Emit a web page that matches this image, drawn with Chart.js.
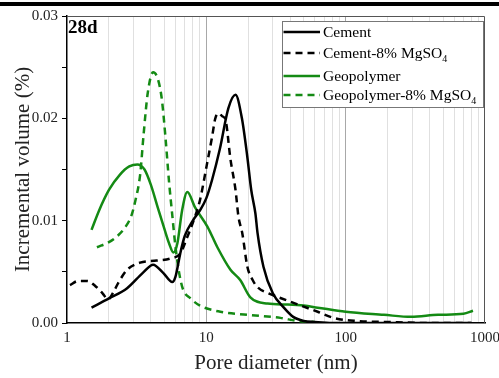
<!DOCTYPE html>
<html>
<head>
<meta charset="utf-8">
<script src="https://cdn.jsdelivr.net/npm/chart.js@4"></script>
<style>
  html, body { margin: 0; padding: 0; background: #fff; }
  #wrap { width: 499px; height: 378px; position: relative; }
</style>
</head>
<body>
<div id="wrap"><canvas id="chart-pori" width="499" height="378"></canvas></div>
<script>
// ===== dati (28d) =====
const cementX = [1.5, 2, 2.7, 3.5, 4.15, 4.9, 5.7, 6.0, 6.5, 7, 8, 9, 10, 11, 12.5, 14.4, 16.2, 18, 19.7, 21, 22.5, 23.3, 25.7, 30, 36, 42, 50, 60, 80, 120, 200, 400, 800];
const cementY = [0.0015, 0.0024, 0.0034, 0.0049, 0.0057, 0.0049, 0.0040, 0.0045, 0.0068, 0.0085, 0.0100, 0.0110, 0.0122, 0.0140, 0.0170, 0.0210, 0.0223, 0.0200, 0.0162, 0.0130, 0.0107, 0.0088, 0.0055, 0.0029, 0.0015, 0.0006, 0.0002, 0.0001, 0, 0, 0, 0, 0];

const cementMgX = [1.05, 1.2, 1.4, 1.6, 1.8, 1.97, 2.15, 2.35, 2.7, 3.35, 4.4, 5.5, 6.5, 7.3, 8.1, 9, 10, 11, 11.6, 12.3, 13, 13.7, 14.9, 16.2, 17, 18.1, 19.7, 21.5, 23.3, 28, 38, 50, 63, 82, 120, 200, 400, 800];
const cementMgY = [0.0037, 0.0041, 0.0041, 0.0036, 0.0029, 0.0023, 0.0030, 0.0040, 0.0052, 0.0059, 0.0061, 0.0063, 0.0068, 0.0084, 0.0100, 0.0120, 0.0152, 0.0182, 0.0200, 0.0205, 0.0202, 0.0199, 0.0160, 0.0130, 0.0104, 0.0088, 0.0055, 0.0042, 0.0035, 0.0029, 0.0022, 0.0016, 0.0011, 0.0005, 0.0002, 0.0001, 0, 0];

const geoX = [1.5, 1.7, 2, 2.4, 2.8, 3.2, 3.6, 4, 4.5, 5, 5.4, 5.8, 6.2, 6.7, 7.3, 8.3, 10.2, 12, 14.9, 17.5, 20.7, 27.5, 38, 50, 63, 100, 188, 295, 460, 700, 820];
const geoY = [0.0091, 0.0110, 0.0130, 0.0145, 0.0153, 0.0155, 0.0150, 0.0135, 0.0112, 0.0092, 0.0078, 0.0069, 0.0078, 0.0110, 0.0128, 0.0113, 0.0094, 0.0074, 0.0052, 0.0042, 0.0025, 0.0019, 0.0018, 0.0017, 0.0015, 0.0011, 0.0008, 0.0006, 0.0008, 0.0009, 0.0012];

const geoMgX = [1.64, 2, 2.3, 2.6, 2.9, 3.1, 3.35, 3.55, 3.8, 4.15, 4.5, 4.8, 5.1, 5.4, 5.7, 6.0, 6.4, 6.8, 7.7, 9, 12.6, 19.7, 34, 45, 60];
const geoMgY = [0.0074, 0.0079, 0.0085, 0.0093, 0.0105, 0.0120, 0.0145, 0.0185, 0.0225, 0.0245, 0.0238, 0.0218, 0.0180, 0.0138, 0.0105, 0.0075, 0.0048, 0.0033, 0.0024, 0.0017, 0.0011, 0.0008, 0.0005, 0.0002, 0.0001];

const xMajor = [1, 10, 100, 1000];
const yLabels = [0, 0.01, 0.02, 0.03];

const VERDE = '#148a14';
const FONT = "'Liberation Serif', 'Times New Roman', serif";

const pts = (xs, ys) => xs.map((x, i) => ({ x: x, y: ys[i] }));

// tick del log: 1..9, 10..90, 100..1000
const xTicks = [];
for (let d = 1; d <= 100; d *= 10) {
  for (let m = 1; m <= 9; m++) xTicks.push(m * d);
}
xTicks.push(1000);

const legendItems = [
  { text: 'Cement', sub: '', color: '#000', dash: [] },
  { text: 'Cement-8% MgSO', sub: '4', color: '#000', dash: [7, 5] },
  { text: 'Geopolymer', sub: '', color: VERDE, dash: [] },
  { text: 'Geopolymer-8% MgSO', sub: '4', color: VERDE, dash: [7, 5] }
];
const legendRowsY = [32, 53, 76, 95];

const extras = {
  id: 'extras',
  beforeDraw(chart) {
    const c = chart.ctx;
    c.save();
    c.fillStyle = '#fff';
    c.fillRect(0, 0, chart.width, chart.height);
    c.fillStyle = '#000';
    c.fillRect(0, 2, chart.width, 4);
    c.restore();
  },
  afterDatasetsDraw(chart) {
    const c = chart.ctx;
    const a = chart.chartArea;
    c.save();
    // cornice superiore/destra
    c.strokeStyle = '#555';
    c.lineWidth = 1;
    c.beginPath();
    c.moveTo(a.left, a.top + 0.5);
    c.lineTo(a.right - 0.5, a.top + 0.5);
    c.lineTo(a.right - 0.5, a.bottom);
    c.stroke();

    // etichetta 28d
    c.fillStyle = '#000';
    c.font = 'bold 19px ' + FONT;
    c.textBaseline = 'alphabetic';
    c.fillText('28d', a.left + 1, 33);

    // legenda
    const bx = 282.5, by = 21.5, bw = 201, bh = 86;
    c.fillStyle = '#fff';
    c.fillRect(bx, by, bw, bh);
    c.strokeStyle = '#777';
    c.strokeRect(bx, by, bw, bh);
    legendItems.forEach((it, i) => {
      const y = legendRowsY[i];
      c.strokeStyle = it.color;
      c.lineWidth = 2.5;
      c.setLineDash(it.dash);
      c.beginPath();
      c.moveTo(bx + 1, y);
      c.lineTo(320, y);
      c.stroke();
      c.setLineDash([]);
      c.fillStyle = '#000';
      c.font = '15.5px ' + FONT;
      c.textBaseline = 'middle';
      c.fillText(it.text, 323, y + 1);
      if (it.sub) {
        const w = c.measureText(it.text).width;
        c.font = '10px ' + FONT;
        c.fillText(it.sub, 323 + w, y + 6);
      }
    });
    c.restore();
  }
};

const serie = (label, xs, ys, color, dash) => ({
  label: label,
  data: pts(xs, ys),
  showLine: true,
  borderColor: color,
  backgroundColor: color,
  borderWidth: 2.5,
  borderDash: dash,
  pointRadius: 0,
  cubicInterpolationMode: 'monotone'
});

new Chart(document.getElementById('chart-pori').getContext('2d'), {
  type: 'scatter',
  data: {
    datasets: [
      serie('Cement', cementX, cementY, '#000', []),
      serie('Cement-8% MgSO4', cementMgX, cementMgY, '#000', [7, 5]),
      serie('Geopolymer', geoX, geoY, VERDE, []),
      serie('Geopolymer-8% MgSO4', geoMgX, geoMgY, VERDE, [7, 5])
    ]
  },
  options: {
    responsive: false,
    animation: false,
    layout: { padding: { top: 16, right: 14, left: 0, bottom: 0 } },
    plugins: { legend: { display: false }, tooltip: { enabled: false } },
    scales: {
      x: {
        type: 'logarithmic',
        min: 1,
        max: 1000,
        afterBuildTicks: s => { s.ticks = xTicks.map(v => ({ value: v })); },
        afterFit: s => { s.height = 55; s.paddingLeft = 0; s.paddingRight = 0; },
        ticks: {
          autoSkip: false,
          maxRotation: 0,
          padding: 6,
          color: '#222',
          font: { family: FONT, size: 15 },
          callback: v => xMajor.includes(v) ? String(v) : ''
        },
        grid: {
          drawTicks: false,
          lineWidth: 1,
          color: ctx => {
            const v = ctx.tick ? ctx.tick.value : 0;
            if (v === 1 || v === 1000) return 'rgba(0,0,0,0)';
            return (v === 10 || v === 100) ? '#a8a8a8' : '#e0e0e0';
          }
        },
        border: { color: '#000', width: 1.5 },
        title: {
          display: true,
          text: 'Pore diameter (nm)',
          color: '#222',
          font: { family: FONT, size: 21 },
          padding: { top: 0, bottom: 2 }
        }
      },
      y: {
        min: 0,
        max: 0.03,
        afterFit: s => { s.width = 67; s.paddingTop = 0; s.paddingBottom = 0; },
        ticks: {
          stepSize: 0.005,
          padding: 4,
          color: '#222',
          font: { family: FONT, size: 15 },
          callback: v => yLabels.some(l => Math.abs(l - v) < 1e-9) ? v.toFixed(2) : ''
        },
        grid: { drawOnChartArea: false, drawTicks: true, tickLength: 5, color: '#000' },
        border: { color: '#000', width: 1.5 },
        title: {
          display: true,
          text: 'Incremental volume (%)',
          color: '#222',
          font: { family: FONT, size: 21 },
          padding: { top: 11, bottom: 0 }
        }
      }
    }
  },
  plugins: [extras]
});
</script>
</body>
</html>
